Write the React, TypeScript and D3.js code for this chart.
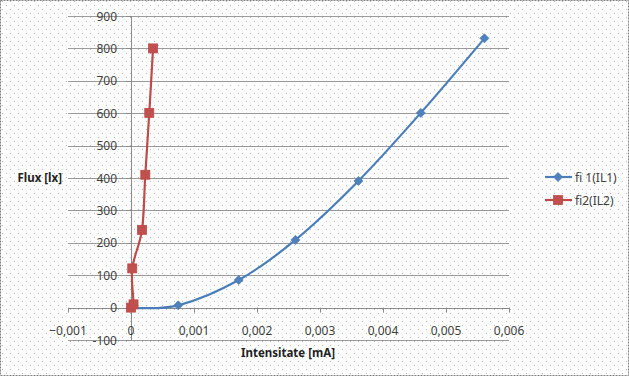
import React from "react";
import * as d3 from "d3";

const fi1X = [0, 0.00075, 0.00171, 0.00261, 0.00361, 0.0046, 0.00561];
const fi1Y = [0, 7, 85, 209, 391, 601, 831];
const fi2X = [0, 0.00004, 0.00002, 0.000175, 0.000227, 0.00029, 0.00035];
const fi2Y = [0, 10, 121, 240, 410, 601, 800];
const xTicks = [-0.001, 0, 0.001, 0.002, 0.003, 0.004, 0.005, 0.006];
const yTicks = [-100, 0, 100, 200, 300, 400, 500, 600, 700, 800, 900];
const seriesNames = ["fi 1(IL1)", "fi2(IL2)"];

const W = 629, H = 376;
const FONT = "'Noto Sans', 'Open Sans', sans-serif";

export default function App() {
  const x = d3.scaleLinear().domain([-0.001, 0.006]).range([68, 509]);
  const y = d3.scaleLinear().domain([-100, 900]).range([340, 16]);
  const fmtX = (v: number) => (v === 0 ? "0" : d3.format(".3f")(v).replace(".", ",").replace("-", "-"));
  const line = d3
    .line<[number, number]>()
    .x((d) => x(d[0]))
    .y((d) => y(d[1]))
    .curve(d3.curveCardinal.tension(0));
  const s1: [number, number][] = fi1X.map((v, i) => [v, fi1Y[i]]);
  const s2: [number, number][] = fi2X.map((v, i) => [v, fi2Y[i]]);
  const blue = "#4A7EBB", blueM = "#4F81BD", red = "#BE4B48", redM = "#C0504D";

  const diamond = (cx: number, cy: number, k: string | number) => (
    <path key={k} d={`M${cx},${cy - 4.5}L${cx + 4.5},${cy}L${cx},${cy + 4.5}L${cx - 4.5},${cy}Z`} fill={blueM} stroke={blue} strokeWidth={0.8} />
  );
  const square = (cx: number, cy: number, k: string | number) => (
    <rect key={k} x={cx - 4.5} y={cy - 4.5} width={9} height={9} fill={redM} stroke={red} strokeWidth={0.8} />
  );

  return (
    <svg width={W} height={H} style={{ position: "absolute", left: 0, top: 0, fontFamily: FONT }}>
      <defs>
        <pattern id="dots" width={8} height={8} patternUnits="userSpaceOnUse">
          <rect x={2} y={1} width={1} height={1} fill="#b4b4b4" />
          <rect x={6} y={5} width={1} height={1} fill="#b4b4b4" />
        </pattern>
      </defs>
      <rect x={0} y={0} width={W} height={H} fill="#fff" />
      <rect x={0} y={0} width={W} height={H} fill="url(#dots)" />
      <rect x={0.5} y={0.5} width={W - 1} height={H - 1} fill="none" stroke="#7f7f7f" strokeDasharray="2,1" />
      {yTicks.map((t) => (
        <line key={"g" + t} x1={68} x2={509} y1={Math.round(y(t)) + 0.5} y2={Math.round(y(t)) + 0.5} stroke="#9a9a9a" strokeWidth={1} />
      ))}
      <line x1={Math.round(x(0)) + 0.5} x2={Math.round(x(0)) + 0.5} y1={16} y2={340} stroke="#8a8a8a" />
      <line x1={68} x2={509} y1={Math.round(y(0)) + 0.5} y2={Math.round(y(0)) + 0.5} stroke="#8a8a8a" />
      {xTicks.map((t) => (
        <line key={"xt" + t} x1={Math.round(x(t)) + 0.5} x2={Math.round(x(t)) + 0.5} y1={y(0)} y2={y(0) + 5} stroke="#8a8a8a" />
      ))}
      {yTicks.map((t) => (
        <line key={"yt" + t} x1={x(0) - 5} x2={x(0)} y1={Math.round(y(t)) + 0.5} y2={Math.round(y(t)) + 0.5} stroke="#8a8a8a" />
      ))}
      {yTicks.map((t) => (
        <text key={"yl" + t} x={117} y={y(t) + 4.5} textAnchor="end" fontSize={12} fill="#404040">
          {t}
        </text>
      ))}
      {xTicks.map((t) => (
        <text key={"xl" + t} x={x(t)} y={334.5} textAnchor="middle" fontSize={12} fill="#404040">
          {fmtX(t)}
        </text>
      ))}
      <text x={62} y={182} textAnchor="end" fontSize={11.5} fontWeight="bold" fill="#222">
        Flux [lx]
      </text>
      <text x={288} y={357} textAnchor="middle" fontSize={11.5} fontWeight="bold" fill="#222">
        Intensitate [mA]
      </text>
      <path d={line(s1) || ""} fill="none" stroke={blue} strokeWidth={2.2} />
      {s1.map((d, i) => diamond(x(d[0]), y(d[1]), "d" + i))}
      <path d={line(s2) || ""} fill="none" stroke={red} strokeWidth={2.2} />
      {s2.map((d, i) => square(x(d[0]), y(d[1]), "s" + i))}
      {seriesNames.map((n, i) => {
        const ly = 177 + i * 23;
        return (
          <g key={n}>
            <line x1={545} x2={572} y1={ly} y2={ly} stroke={i === 0 ? blue : red} strokeWidth={2.2} />
            {i === 0 ? diamond(558, ly, "ld") : square(558, ly, "ls")}
            <text x={575} y={ly + 4.5} fontSize={12} fill="#404040">
              {n}
            </text>
          </g>
        );
      })}
    </svg>
  );
}
